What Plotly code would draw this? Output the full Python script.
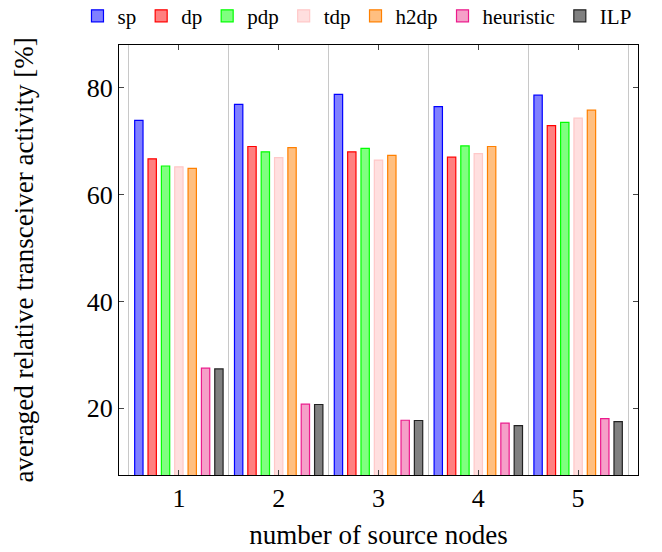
import plotly.graph_objects as go

categories = [1, 2, 3, 4, 5]
series_names = ["sp", "dp", "pdp", "tdp", "h2dp", "heuristic", "ILP"]
sp = [73.9, 76.9, 78.75, 76.45, 78.6]
dp = [66.7, 69.0, 68.0, 67.0, 72.9]
pdp = [65.35, 68.0, 68.65, 69.1, 73.5]
tdp = [65.2, 66.9, 66.45, 67.65, 74.3]
h2dp = [64.9, 68.8, 67.35, 69.0, 75.8]
heuristic = [27.5, 20.75, 17.75, 17.2, 18.05]
ilp = [27.35, 20.7, 17.7, 16.75, 17.5]
y_ticks = [20, 40, 60, 80]

series_values = [sp, dp, pdp, tdp, h2dp, heuristic, ilp]
fills = ["#8080ff", "#ff8080", "#80ff80", "#ffdfdf", "#ffbf80", "#f5a0c8", "#808080"]
lines = ["#0000ff", "#ff0000", "#00ff00", "#ffc8c8", "#ff8000", "#ec1a8c", "#222222"]

FONT = "Liberation Serif"

fig = go.Figure()
for name, vals, fc, lc in zip(series_names, series_values, fills, lines):
    fig.add_trace(go.Bar(
        x=categories, y=vals, name=name,
        marker=dict(color=fc, line=dict(color=lc, width=1.2)),
    ))

# page has an 8px body margin, so the figure is sized/placed to compensate
fig.update_layout(
    width=654, height=544,
    margin=dict(l=111, r=24, t=37, b=77, autoexpand=False),
    paper_bgcolor="white", plot_bgcolor="white",
    barmode="group", bargap=0.064, bargroupgap=0.375,
    font=dict(family=FONT, size=27, color="black"),
    showlegend=True,
    legend=dict(
        orientation="h", x=-0.08, xanchor="left", y=1.067, yanchor="middle",
        font=dict(family=FONT, size=21), itemwidth=30,
        tracegroupgap=0, bgcolor="rgba(0,0,0,0)",
    ),
)

fig.update_xaxes(
    range=[0.4, 5.6], tickmode="array", tickvals=categories,
    ticktext=[str(c) for c in categories],
    showline=True, linecolor="black", linewidth=1, mirror="ticks",
    ticks="inside", ticklen=5, tickcolor="#444", showgrid=False, zeroline=False,
    minor=dict(tick0=0.5, dtick=1, showgrid=True, gridcolor="#c8c8c8", gridwidth=1, ticks=""),
    title=dict(text="number of source nodes", standoff=12, font=dict(family=FONT, size=27)),
    tickfont=dict(family=FONT, size=26),
)
fig.update_yaxes(
    range=[7.5, 88], tickmode="array", tickvals=y_ticks,
    showline=True, linecolor="black", linewidth=1, mirror="ticks",
    ticks="inside", ticklen=5, tickcolor="#444", showgrid=False, zeroline=False,
    title=dict(text="averaged relative transceiver activity [%]", standoff=45, font=dict(family=FONT, size=27)),
    tickfont=dict(family=FONT, size=26),
)

fig.write_html("out.html")
